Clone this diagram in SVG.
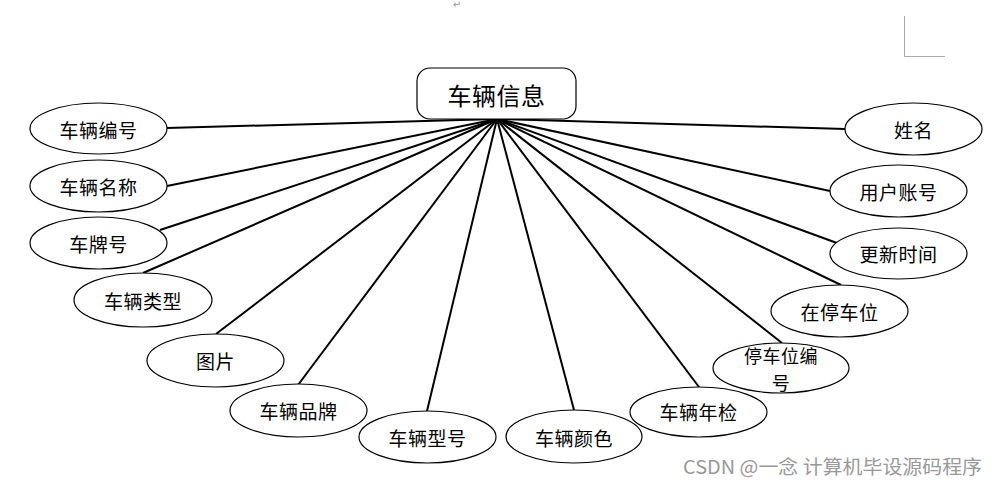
<svg xmlns="http://www.w3.org/2000/svg" width="998" height="485" viewBox="0 0 998 485">
<style>
.n{fill:#fff;stroke:#000;stroke-width:1.2}
.t{font-family:"Noto Sans CJK SC","Noto Sans",sans-serif;font-size:19px;fill:#000;text-anchor:middle;dominant-baseline:central;letter-spacing:0.5px}
.c line{stroke:#000;stroke-width:2}
</style>
<rect width="998" height="485" fill="#fff"/>
<text x="457" y="8" font-family="DejaVu Sans,sans-serif" font-size="10" fill="#999" text-anchor="middle">↵</text>
<path d="M904.5 16 V56.5 H945" fill="none" stroke="#aaa" stroke-width="1"/>
<g id="connectors" class="c">
<line x1="497" y1="119" x2="167" y2="128"/>
<line x1="497" y1="119" x2="167" y2="186"/>
<line x1="497" y1="119" x2="160" y2="230"/>
<line x1="497" y1="119" x2="143" y2="273"/>
<line x1="497" y1="119" x2="216" y2="334"/>
<line x1="497" y1="119" x2="298" y2="385"/>
<line x1="497" y1="119" x2="427" y2="411"/>
<line x1="497" y1="119" x2="574" y2="410"/>
<line x1="497" y1="119" x2="699" y2="387"/>
<line x1="497" y1="119" x2="782" y2="343"/>
<line x1="497" y1="119" x2="841" y2="285"/>
<line x1="497" y1="119" x2="837" y2="243"/>
<line x1="497" y1="119" x2="830" y2="191"/>
<line x1="497" y1="119" x2="845" y2="129"/>
</g>
<g id="center"><rect x="417" y="68" width="159" height="51" rx="13" class="n"/><text x="496.5" y="94" class="t" style="font-size:24px">车辆信息</text></g>
<g id="n1"><ellipse cx="98.5" cy="128.5" rx="68.5" ry="25.5" class="n"/><text x="98.5" y="129" class="t">车辆编号</text></g>
<g id="n2"><ellipse cx="98.5" cy="186" rx="68.5" ry="26" class="n"/><text x="98.5" y="186" class="t">车辆名称</text></g>
<g id="n3"><ellipse cx="98.5" cy="243" rx="68.5" ry="26" class="n"/><text x="98.5" y="243" class="t">车牌号</text></g>
<g id="n4"><ellipse cx="143" cy="300" rx="69" ry="27" class="n"/><text x="143" y="300" class="t">车辆类型</text></g>
<g id="n5"><ellipse cx="215.5" cy="360.5" rx="68.5" ry="26.5" class="n"/><text x="215.5" y="360" class="t">图片</text></g>
<g id="n6"><ellipse cx="298.5" cy="410.5" rx="68.5" ry="26.5" class="n"/><text x="298.5" y="410" class="t">车辆品牌</text></g>
<g id="n7"><ellipse cx="427.5" cy="437" rx="68.5" ry="26" class="n"/><text x="427.5" y="437" class="t">车辆型号</text></g>
<g id="n8"><ellipse cx="574" cy="436.5" rx="68" ry="26.5" class="n"/><text x="574" y="437" class="t">车辆颜色</text></g>
<g id="n9"><ellipse cx="698.5" cy="412" rx="68.5" ry="25" class="n"/><text x="698.5" y="411" class="t">车辆年检</text></g>
<g id="n10"><ellipse cx="781" cy="368" rx="68" ry="25" class="n"/><text class="t" style="font-size:18px"><tspan x="781" y="355">停车位编</tspan><tspan x="781" y="382">号</tspan></text></g>
<g id="n11"><ellipse cx="839.5" cy="311" rx="68.5" ry="26" class="n"/><text x="839.5" y="311" class="t">在停车位</text></g>
<g id="n12"><ellipse cx="898.5" cy="253.5" rx="68.5" ry="25.5" class="n"/><text x="898.5" y="253" class="t">更新时间</text></g>
<g id="n13"><ellipse cx="898.5" cy="191" rx="68.5" ry="26" class="n"/><text x="898.5" y="191" class="t">用户账号</text></g>
<g id="n14"><ellipse cx="913.5" cy="129" rx="68.5" ry="26" class="n"/><text x="913.5" y="129" class="t">姓名</text></g>
<text x="683" y="474" font-family="Noto Sans CJK SC,Noto Sans,sans-serif" font-size="19" fill="#999" textLength="299" lengthAdjust="spacingAndGlyphs">CSDN @一念 计算机毕设源码程序</text>
</svg>
